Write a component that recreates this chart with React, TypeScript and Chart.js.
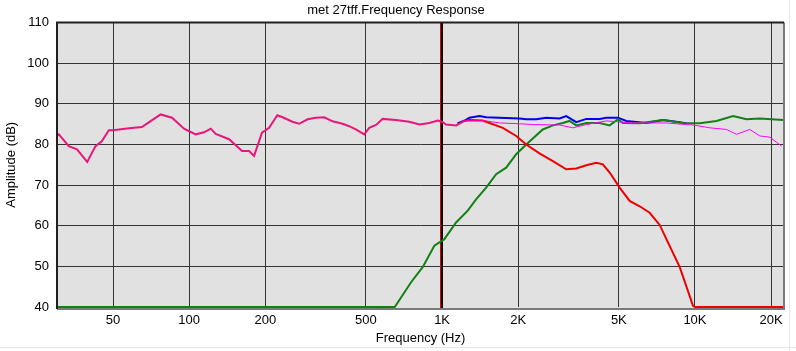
import React, { useEffect, useRef } from 'react';
import { Chart, registerables } from 'chart.js';

Chart.register(...registerables);

const chartTitle = 'met 27tff.Frequency Response';
const xAxisTitle = 'Frequency (Hz)';
const yAxisTitle = 'Amplitude (dB)';

const xMin = 30;
const xMax = 22500;
const yMin = 40;
const yMax = 110;
const xTickValues = [50, 100, 200, 500, 1000, 2000, 5000, 10000, 20000];
const xTickLabels = ['50', '100', '200', '500', '1K', '2K', '5K', '10K', '20K'];

// Overlapping (combined) response below the crossover split
const combinedFreq = [30, 30.5, 33.4, 36, 39.5, 42.6, 45.1, 48.1, 50, 57.8, 65, 70.6, 77.1, 85.5, 95.4, 106, 114.5, 121.6, 127.3, 143.8, 161.8, 172.5, 180.5, 194, 207, 223, 234, 256, 272, 294, 317, 342, 369, 404, 429, 456, 492, 515, 548, 582, 657, 742, 813, 891, 961, 1000, 1037, 1136, 1225];
const combinedDb = [82.2, 82.5, 79.6, 78.8, 75.7, 79.6, 80.8, 83.5, 83.5, 84.0, 84.3, 85.8, 87.4, 86.6, 83.9, 82.5, 83.0, 83.9, 82.6, 81.3, 78.4, 78.4, 77.2, 82.9, 84.1, 87.2, 86.7, 85.6, 85.1, 86.2, 86.6, 86.7, 85.7, 85.1, 84.5, 83.7, 82.5, 84.1, 84.8, 86.3, 86.0, 85.6, 84.9, 85.3, 85.9, 85.6, 84.9, 84.7, 85.8];

// Woofer (low-pass) response
const wooferFreq = [1225, 1283, 1448, 1539, 1738, 1964, 2151, 2428, 2742, 3098, 3394, 3718, 4073, 4325, 4599, 5037, 5518, 6046, 6622, 7255, 7711, 8708, 9828, 10000, 22500];
const wooferDb = [85.8, 86.0, 85.9, 85.3, 84.1, 82.1, 80.0, 77.8, 75.9, 73.9, 74.1, 74.9, 75.5, 75.1, 73.1, 69.4, 66.1, 64.8, 63.2, 60.2, 56.7, 49.8, 40.3, 40, 40];

// Summed response
const sumFreq = [1150, 1230, 1283, 1405, 1494, 1686, 2024, 2151, 2357, 2581, 2914, 3098, 3394, 3718, 4198, 4462, 4960, 5354, 6427, 7477, 8708, 9254];
const sumDb = [85.2, 85.9, 86.6, 87.0, 86.7, 86.6, 86.4, 86.2, 86.2, 86.6, 86.4, 87.0, 85.5, 86.3, 86.3, 86.6, 86.6, 85.8, 85.3, 86.0, 85.5, 85.2];

// Tweeter (high-pass) response
const tweeterFreq = [30, 650, 754, 838, 932, 1021, 1136, 1263, 1363, 1494, 1636, 1793, 1964, 2151, 2285, 2502, 2742, 3003, 3193, 3394, 3718, 4198, 4599, 4960, 5190, 6046, 7477, 8975, 10447, 12165, 14154, 15995, 18058, 22332];
const tweeterDb = [40, 40, 46.1, 49.8, 55.1, 56.7, 60.8, 63.7, 66.5, 69.4, 72.7, 74.3, 77.6, 80.0, 81.5, 83.7, 84.7, 85.3, 85.8, 84.7, 85.3, 85.3, 84.7, 86.2, 85.3, 85.2, 86.0, 85.3, 85.2, 85.8, 87.0, 86.2, 86.4, 86.0];

// Reference measurement (thin)
const referenceFreq = [1225, 1494, 1686, 2024, 2285, 2914, 3290, 3718, 4462, 5687, 7711, 9254, 9828, 11445, 13327, 14601, 16482, 18058, 19785, 22008];
const referenceDb = [85.8, 85.8, 85.3, 85.1, 84.9, 84.8, 84.1, 84.9, 85.8, 85.3, 85.3, 84.9, 84.8, 84.1, 83.7, 82.5, 83.7, 82.1, 81.8, 79.6];

// Cursor markers
const cursorFreqs = [982, 1003];

const FONT = '"Liberation Sans", Arial, sans-serif';

const toPoints = (f: number[], d: number[]) => f.map((x, i) => ({ x, y: d[i] }));

const bgPlugin = {
  id: 'bgPlugin',
  beforeDraw(chart: any) {
    const { ctx, width, height, chartArea } = chart;
    ctx.save();
    ctx.fillStyle = '#ffffff';
    ctx.fillRect(0, 0, width, height);
    ctx.strokeStyle = '#e6e6e6';
    ctx.lineWidth = 1;
    ctx.beginPath();
    ctx.moveTo(789.5, 0);
    ctx.lineTo(789.5, height);
    ctx.moveTo(0, height - 3.5);
    ctx.lineTo(width, height - 3.5);
    ctx.stroke();
    if (chartArea) {
      ctx.fillStyle = '#e1e1e1';
      ctx.fillRect(chartArea.left, chartArea.top, chartArea.right - chartArea.left, chartArea.bottom - chartArea.top + 2);
    }
    ctx.restore();
  },
  beforeDatasetsDraw(chart: any) {
    const { ctx, chartArea, scales } = chart;
    const colors = ['#e00000', '#000000'];
    const widths = [1, 2];
    ctx.save();
    cursorFreqs.forEach((f, i) => {
      const x = Math.round(scales.x.getPixelForValue(f)) + (widths[i] === 1 ? 0.5 : 0);
      ctx.strokeStyle = colors[i];
      ctx.lineWidth = widths[i];
      ctx.beginPath();
      ctx.moveTo(x, chartArea.top);
      ctx.lineTo(x, chartArea.bottom + 2);
      ctx.stroke();
    });
    ctx.restore();
  },
  afterDraw(chart: any) {
    const { ctx, chartArea } = chart;
    const { left, top, right, bottom } = chartArea;
    const b = bottom + 2;
    ctx.save();
    ctx.lineWidth = 2;
    ctx.strokeStyle = '#7a7a7a';
    ctx.beginPath();
    ctx.moveTo(right, top);
    ctx.lineTo(right, b);
    ctx.lineTo(left, b);
    ctx.stroke();
    ctx.strokeStyle = '#202020';
    ctx.beginPath();
    ctx.moveTo(left, b);
    ctx.lineTo(left, top);
    ctx.lineTo(right, top);
    ctx.stroke();
    ctx.restore();
  },
};

export default function App() {
  const canvasRef = useRef<HTMLCanvasElement | null>(null);

  useEffect(() => {
    document.body.style.margin = '0';
    const canvas = canvasRef.current;
    if (!canvas) return;
    const lineDs = (label: string, f: number[], d: number[], color: string, width: number) => ({
      label,
      data: toPoints(f, d),
      borderColor: color,
      backgroundColor: color,
      borderWidth: width,
      pointRadius: 0,
      tension: 0,
      fill: false,
      clip: { left: 1, top: 1, right: 1, bottom: 3 },
    });
    const chart = new Chart(canvas, {
      type: 'line',
      data: {
        datasets: [
          lineDs('Reference', referenceFreq, referenceDb, '#ff00ff', 1),
          lineDs('Woofer', wooferFreq, wooferDb, '#ee0000', 2),
          lineDs('Combined', combinedFreq, combinedDb, '#e8177a', 2),
          lineDs('Tweeter', tweeterFreq, tweeterDb, '#138013', 2),
          lineDs('Sum', sumFreq, sumDb, '#0000ee', 2),
        ],
      },
      options: {
        animation: false,
        responsive: true,
        maintainAspectRatio: false,
        layout: { padding: { left: 8, right: 12, top: 0, bottom: 0 } },
        plugins: {
          legend: { display: false },
          tooltip: { enabled: false },
          title: {
            display: true,
            text: chartTitle,
            color: '#000',
            font: { family: FONT, size: 13, weight: 'normal' },
            padding: { top: 3, bottom: 4 },
          },
        },
        scales: {
          x: {
            type: 'logarithmic',
            min: xMin,
            max: xMax,
            afterBuildTicks: (scale: any) => {
              scale.ticks = xTickValues.map((v) => ({ value: v }));
            },
            afterFit: (scale: any) => {
              scale.height = 44;
            },
            ticks: {
              autoSkip: false,
              maxRotation: 0,
              padding: 6,
              color: '#000',
              font: { family: FONT, size: 13 },
              callback: (v: any) => {
                const i = xTickValues.indexOf(Number(v));
                return i >= 0 ? xTickLabels[i] : '';
              },
            },
            grid: { color: '#333333', lineWidth: 1, drawTicks: false },
            border: { display: false },
            title: {
              display: true,
              text: xAxisTitle,
              color: '#000',
              font: { family: FONT, size: 13 },
              padding: { top: 0, bottom: 5 },
            },
          },
          y: {
            min: yMin,
            max: yMax,
            afterFit: (scale: any) => {
              scale.width = 49;
            },
            ticks: {
              stepSize: 10,
              padding: 8,
              color: '#000',
              font: { family: FONT, size: 13 },
            },
            grid: {
              color: (c: any) => (c.tick && c.tick.value === yMin ? 'rgba(0,0,0,0)' : '#333333'),
              lineWidth: 1,
              drawTicks: false,
            },
            border: { display: false },
            title: {
              display: true,
              text: yAxisTitle,
              color: '#000',
              font: { family: FONT, size: 13 },
              padding: { top: -4, bottom: 0 },
            },
          },
        },
      } as any,
      plugins: [bgPlugin],
    });
    return () => chart.destroy();
  }, []);

  return (
    <div style={{ width: '796px', height: '351px', position: 'relative' }}>
      <canvas ref={canvasRef} />
    </div>
  );
}
